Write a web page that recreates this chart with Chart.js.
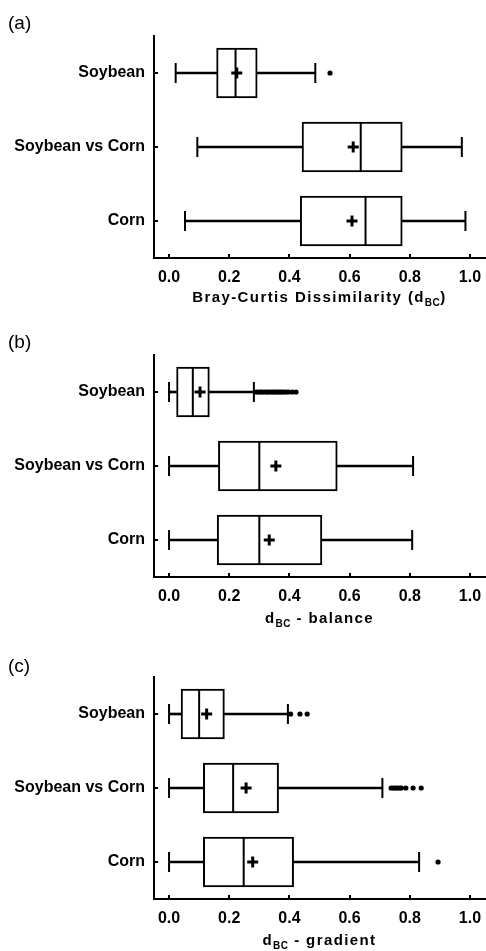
<!DOCTYPE html>
<html>
<head>
<meta charset="utf-8">
<script src="https://cdn.jsdelivr.net/npm/chart.js@4.4.0/dist/chart.umd.min.js"></script>
<style>
body { margin: 0; background: #fff; width: 486px; height: 951px; position: relative; overflow: hidden; font-family: "Liberation Sans", Arial, sans-serif; color: #000; }
.panel { position: absolute; left: 0; width: 486px; height: 310px; }
.panel canvas { position: absolute; left: 0; top: 0; }
.tag { position: absolute; left: 8px; top: 12px; font-size: 19px; line-height: 22px; }
.xt { position: absolute; left: 154px; width: 331px; text-align: center; font-weight: bold; font-size: 15px; line-height: 18px; letter-spacing: 1.4px; white-space: nowrap; }
.xt sub { font-size: 10px; letter-spacing: 0.5px; }
</style>
</head>
<body>
<div class="panel" style="top:0px">
  <canvas id="chartA" width="486" height="310"></canvas>
  <div class="tag">(a)</div>
  <div class="xt" style="top:288px">Bray-Curtis Dissimilarity (d<sub>BC</sub>)</div>
</div>
<div class="panel" style="top:319px">
  <canvas id="chartB" width="486" height="310"></canvas>
  <div class="tag">(b)</div>
  <div class="xt" style="top:290px">d<sub>BC</sub> - balance</div>
</div>
<div class="panel" style="top:641px">
  <canvas id="chartC" width="486" height="310"></canvas>
  <div class="tag" style="top:14px">(c)</div>
  <div class="xt" style="top:290px">d<sub>BC</sub> - gradient</div>
</div>
<script>
var categories = ['Soybean', 'Soybean vs Corn', 'Corn'];
var xTicks = [0, 0.2, 0.4, 0.6, 0.8, 1.0];

// (a) Bray-Curtis dissimilarity
var aMin = [0.022, 0.094, 0.053];
var aQ1 = [0.158, 0.442, 0.436];
var aMedian = [0.221, 0.637, 0.653];
var aMean = [0.225, 0.612, 0.608];
var aQ3 = [0.293, 0.775, 0.775];
var aMax = [0.486, 0.973, 0.985];
var aOutliers = [[0.535], [], []];

// (b) balance
var bMin = [0.0, 0.0, 0.0];
var bQ1 = [0.025, 0.164, 0.160];
var bMedian = [0.079, 0.300, 0.300];
var bMean = [0.103, 0.355, 0.333];
var bQ3 = [0.134, 0.559, 0.508];
var bMax = [0.282, 0.811, 0.808];
var bOutliers = [[0.29, 0.298, 0.305, 0.31, 0.318, 0.325, 0.33, 0.338, 0.345, 0.35, 0.357, 0.363, 0.37, 0.375, 0.382, 0.39, 0.398, 0.41, 0.422], [], []];

// (c) gradient
var cMin = [0.0, 0.0, 0.0];
var cQ1 = [0.040, 0.114, 0.114];
var cMedian = [0.100, 0.213, 0.248];
var cMean = [0.125, 0.256, 0.278];
var cQ3 = [0.184, 0.364, 0.414];
var cMax = [0.395, 0.709, 0.831];
var cOutliers = [[0.404, 0.435, 0.459], [0.738, 0.745, 0.752, 0.758, 0.765, 0.772, 0.787, 0.811, 0.838], [0.894]];

function points(vals) {
    return vals.map(function (v, i) { return {x: v, y: categories[i]}; });
}

function makeBoxChart(id, min, q1, median, mean, q3, max, outliers) {
    var caps = points(min).concat(points(max));
    var outPts = [];
    outliers.forEach(function (list, i) {
        list.forEach(function (v) { outPts.push({x: v, y: categories[i]}); });
    });
    var ctx = document.getElementById(id);
    return new Chart(ctx, {
        type: 'bar',
        data: {
            labels: categories,
            datasets: [{
                label: 'whisker low',
                data: min.map(function (v, i) { return [v, q1[i]]; }),
                backgroundColor: '#000',
                borderWidth: 0,
                barThickness: 2,
                grouped: false,
                order: 5
            }, {
                label: 'whisker high',
                data: q3.map(function (v, i) { return [v, max[i]]; }),
                backgroundColor: '#000',
                borderWidth: 0,
                barThickness: 2,
                grouped: false,
                order: 5
            }, {
                label: 'box',
                data: q1.map(function (v, i) { return [v, q3[i]]; }),
                backgroundColor: '#fff',
                borderColor: '#000',
                borderWidth: 2,
                borderSkipped: false,
                barThickness: 50,
                grouped: false,
                order: 4
            }, {
                type: 'line',
                label: 'caps',
                data: caps,
                showLine: false,
                pointStyle: 'line',
                rotation: 90,
                radius: 10,
                borderColor: '#000',
                borderWidth: 2,
                order: 3
            }, {
                type: 'line',
                label: 'median',
                data: points(median),
                showLine: false,
                pointStyle: 'line',
                rotation: 90,
                radius: 25,
                borderColor: '#000',
                borderWidth: 2,
                order: 2
            }, {
                type: 'line',
                label: 'mean',
                data: points(mean),
                showLine: false,
                pointStyle: 'cross',
                radius: 5.5,
                borderColor: '#000',
                borderWidth: 3,
                order: 1
            }, {
                type: 'line',
                label: 'outliers',
                data: outPts,
                showLine: false,
                pointStyle: 'circle',
                radius: 2.6,
                backgroundColor: '#000',
                borderColor: '#000',
                borderWidth: 0,
                order: 1
            }]
        },
        options: {
            indexAxis: 'y',
            responsive: false,
            animation: false,
            devicePixelRatio: 1,
            layout: {
                autoPadding: false,
                padding: {top: 36, right: 1, bottom: 0, left: 0}
            },
            plugins: {
                legend: {display: false},
                tooltip: {enabled: false}
            },
            scales: {
                x: {
                    type: 'linear',
                    min: -0.05,
                    max: 1.05,
                    afterBuildTicks: function (scale) {
                        scale.ticks = xTicks.map(function (v) { return {value: v}; });
                    },
                    afterFit: function (scale) {
                        scale.height = 52;
                        scale.paddingLeft = 0;
                        scale.paddingRight = 0;
                    },
                    grid: {
                        drawOnChartArea: false,
                        drawTicks: true,
                        tickLength: -4,
                        color: '#000',
                        lineWidth: 2
                    },
                    border: {display: true, color: '#000', width: 2},
                    ticks: {
                        color: '#000',
                        padding: 14,
                        font: {family: '"Liberation Sans", Arial, sans-serif', size: 16, weight: 'bold'},
                        callback: function (v) { return Number(v).toFixed(1); }
                    }
                },
                y: {
                    type: 'category',
                    offset: true,
                    afterFit: function (scale) {
                        scale.width = 154;
                        scale.paddingTop = 0;
                        scale.paddingBottom = 0;
                    },
                    grid: {
                        offset: false,
                        drawOnChartArea: false,
                        drawTicks: true,
                        tickLength: -4,
                        color: '#000',
                        lineWidth: 2
                    },
                    border: {display: true, color: '#000', width: 2},
                    ticks: {
                        color: '#000',
                        padding: 13,
                        font: {family: '"Liberation Sans", Arial, sans-serif', size: 16, weight: 'bold'}
                    }
                }
            }
        }
    });
}

makeBoxChart('chartA', aMin, aQ1, aMedian, aMean, aQ3, aMax, aOutliers);
makeBoxChart('chartB', bMin, bQ1, bMedian, bMean, bQ3, bMax, bOutliers);
makeBoxChart('chartC', cMin, cQ1, cMedian, cMean, cQ3, cMax, cOutliers);
</script>
</body>
</html>
